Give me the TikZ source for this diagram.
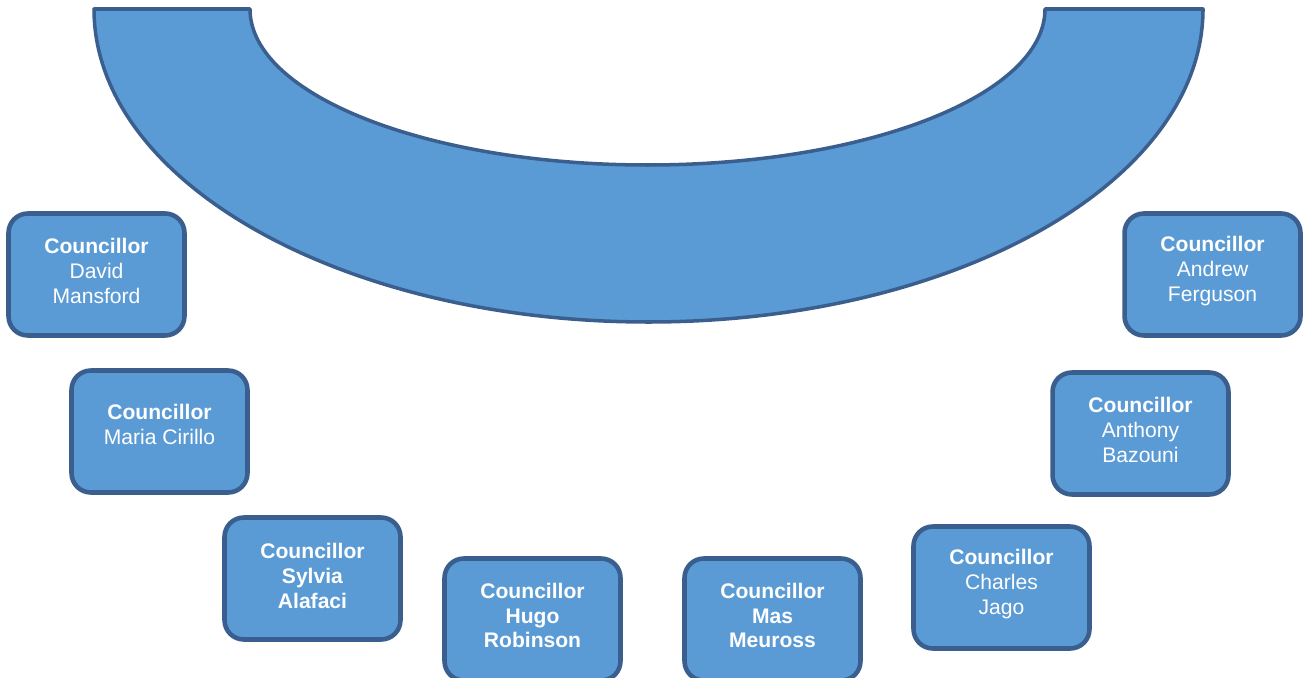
\documentclass[tikz,border=0pt]{standalone}
\usepackage{fontspec}
\setmainfont{Liberation Sans}
\begin{document}
\begin{tikzpicture}[x=0.02cm,y=-0.02cm,
  siege/.style={draw=bord,fill=bleu,line width=2.6pt,rounded corners=11pt,minimum width=3.52cm,minimum height=2.44cm},
  nom/.style={text=white,align=center,font=\fontsize{12}{14.2}\selectfont}]
\definecolor{bleu}{HTML}{5B9BD5}
\definecolor{bord}{HTML}{3A5F8E}

\clip (0,0) rectangle (1307,678);%le cadre

%la table en fer a cheval
\filldraw[fill=bleu,draw=bord,line width=2pt,line join=round]
  (94,9) arc[start angle=180,end angle=0,x radius=554.5,y radius=313]
  -- (1045,9) arc[start angle=0,end angle=180,x radius=397.5,y radius=156] -- cycle;

%les sieges
\node[siege] (mansford) at (96.5,274.5){};
\node[siege] (cirillo) at (159.5,431.5){};
\node[siege] (alafaci) at (312.5,578.5){};
\node[siege] (robinson) at (532.5,619.5){};
\node[siege] (meuross) at (772.5,619.5){};
\node[siege] (jago) at (1001.5,587.5){};
\node[siege] (bazouni) at (1140.5,433.5){};
\node[siege] (ferguson) at (1212.5,274.5){};

%les noms
\node[nom] (mansford_n) at (96.5,271){\textbf{Councillor}\\David\\Mansford};
\node[nom] (cirillo_n) at (159.5,424.5){\textbf{Councillor}\\Maria Cirillo};
\node[nom] (alafaci_n) at (312.5,576){\textbf{Councillor}\\\textbf{Sylvia}\\\textbf{Alafaci}};
\node[nom] (robinson_n) at (532.5,615.5){\textbf{Councillor}\\\textbf{Hugo}\\\textbf{Robinson}};
\node[nom] (meuross_n) at (772.5,615.5){\textbf{Councillor}\\\textbf{Mas}\\\textbf{Meuross}};
\node[nom] (jago_n) at (1001.5,584){\textbf{Councillor}\\Charles\\Jago};
\node[nom] (bazouni_n) at (1140.5,430){\textbf{Councillor}\\Anthony\\Bazouni};
\node[nom] (ferguson_n) at (1212.5,271){\textbf{Councillor}\\Andrew\\Ferguson};

\end{tikzpicture}
\end{document}
